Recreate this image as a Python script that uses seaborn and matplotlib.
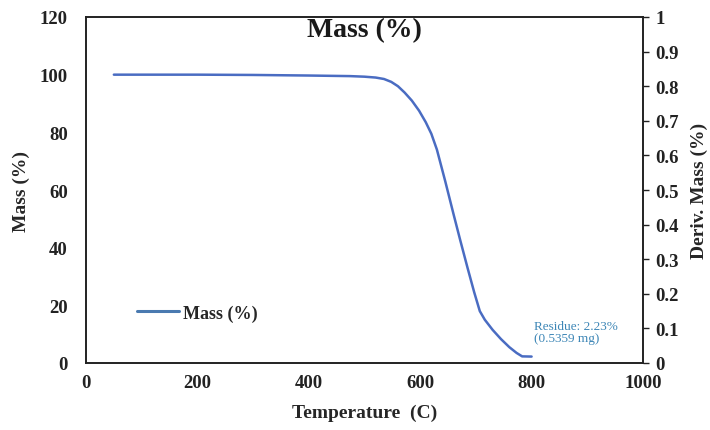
import matplotlib
matplotlib.use("Agg")
import matplotlib.pyplot as plt
import seaborn as sns
import pandas as pd

# Data
temperature = [50, 200, 300, 400, 474, 500, 520, 535, 548, 560, 572, 585, 598, 610, 620,
               630, 645, 660, 672, 685, 697, 707, 716, 730, 745, 760, 773, 783, 800]
mass_pct = [100, 100, 99.9, 99.7, 99.5, 99.3, 99.0, 98.5, 97.5, 96.0, 93.8, 91.0, 87.5,
            83.5, 79.5, 74.0, 63.0, 51.5, 42.5, 33.0, 24.5, 18.0, 15.0, 11.5, 8.3, 5.5,
            3.5, 2.3, 2.23]
left_ticks = [0, 20, 40, 60, 80, 100, 120]
x_ticks = [0, 200, 400, 600, 800, 1000]
right_ticks = [0, 0.1, 0.2, 0.3, 0.4, 0.5, 0.6, 0.7, 0.8, 0.9, 1.0]
right_labels = ["0", "0.1", "0.2", "0.3", "0.4", "0.5", "0.6", "0.7", "0.8", "0.9", "1"]
residue_text = "Residue: 2.23%\n(0.5359 mg)"

df = pd.DataFrame({"Temperature": temperature, "Mass": mass_pct})

sns.set_style("white")
plt.rcParams["font.family"] = ["Liberation Serif", "DejaVu Serif"]

fig = plt.figure(figsize=(7.1, 4.31), dpi=100)
ax = fig.add_axes([86 / 710, 1 - 364 / 431, (643 - 86) / 710, (364 - 18) / 431])

line_color = "#4a6cc2"
sns.lineplot(data=df, x="Temperature", y="Mass", ax=ax, color=line_color,
             linewidth=1.8, label="Mass (%)")

ax.set_xlim(0, 1000)
ax.set_ylim(0, 120)
ax.set_xticks(x_ticks)
ax.set_yticks(left_ticks)
ax.tick_params(axis="both", length=0, labelsize=13.5)
ax.tick_params(axis="y", pad=13)
ax.tick_params(axis="x", pad=8)
for lab in ax.get_xticklabels() + ax.get_yticklabels():
    lab.set_fontweight("bold")
    lab.set_color("#222222")

for s in ax.spines.values():
    s.set_visible(True)
    s.set_color("#222222")
    s.set_linewidth(1.2)

ax.set_xlabel("Temperature  (C)", fontsize=14, fontweight="bold", labelpad=9)
ax.set_ylabel("Mass (%)", fontsize=14, fontweight="bold", labelpad=7)
ax.text(0.5, 1 - 13 / 346, "Mass (%)", transform=ax.transAxes, ha="center", va="center",
        fontsize=20, fontweight="bold", color="#1a1a1a")

leg = ax.legend(loc="center left", bbox_to_anchor=((137 - 86) / 557, (364 - 314) / 346),
                frameon=False, fontsize=13, handlelength=2.3, handletextpad=0.25,
                borderpad=0, borderaxespad=0)
for t in leg.get_texts():
    t.set_fontweight("bold")
for h in leg.legend_handles:
    h.set_color("#4a7ab0")
    h.set_linewidth(2.2)

ax.text(805, 10.7, residue_text, fontsize=9.5, color="#3d86b6", va="center", ha="left",
        linespacing=1.0)

ax2 = ax.twinx()
ax2.set_ylim(0, 1)
ax2.set_yticks(right_ticks)
ax2.set_yticklabels(right_labels)
ax2.tick_params(axis="y", length=4, width=1, color="#222222", labelsize=13.5, pad=5,
                right=True, direction="out")
for lab in ax2.get_yticklabels():
    lab.set_fontweight("bold")
    lab.set_color("#222222")
ax2.set_ylabel("Deriv. Mass (%)", fontsize=14, fontweight="bold", labelpad=8)
for s in ax2.spines.values():
    s.set_color("#222222")
    s.set_linewidth(1.2)

fig.savefig("out.png", dpi=100)
